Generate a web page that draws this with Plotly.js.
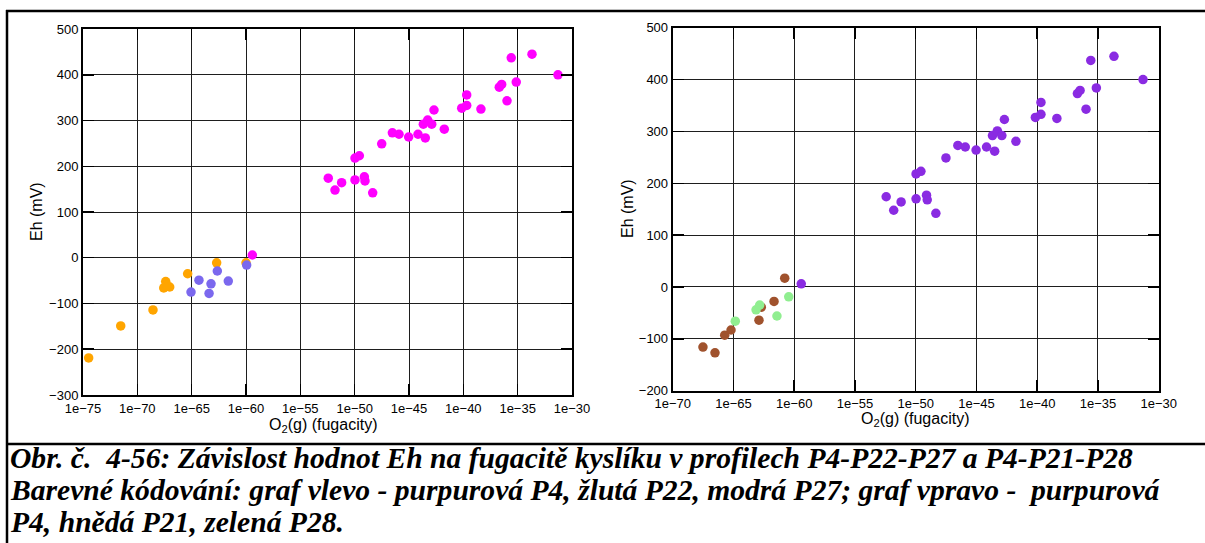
<!DOCTYPE html>
<html>
<head>
<meta charset="utf-8">
<script src="https://cdn.plot.ly/plotly-3.0.1.min.js"></script>
<style>
html,body{margin:0;padding:0;background:#fff;}
#chart{width:1205px;height:543px;}
</style>
</head>
<body>
<div id="chart"></div>
<script>
// ---- Data (log10 of O2(g) fugacity, Eh in mV) ----
const p4LogFO2 = [-52.43,-51.81,-51.2,-49.97,-49.97,-49.57,-49.11,-49.05,-48.34,-47.51,-46.53,-45.92,-45.03,-44.17,-43.5,-43.68,-43.28,-42.91,-42.7,-41.75,-40.15,-39.69,-39.69,-38.38,-36.69,-36.47,-35.98,-35.59,-35.13,-33.68,-31.29,-59.42];
const p4Eh      = [174,148,164,170,218,223,177,168,142,249,273,270,264,270,262,292,301,292,323,281,327,333,356,325,373,379,343,437,384,445,400,6];

const p22LogFO2 = [-74.48,-71.53,-68.56,-67.57,-67.39,-67.02,-67.3,-65.37,-62.7,-60.0];
const p22Eh     = [-219,-149,-114,-66,-52,-64,-60,-35,-11,-11];

const p27LogFO2 = [-65.06,-64.33,-63.22,-63.4,-62.64,-61.63,-59.94];
const p27Eh     = [-75,-49,-57,-78,-29,-51,-16];

const p21LogFO2 = [-67.51,-66.52,-65.72,-65.2,-62.9,-62.71,-61.66,-60.78];
const p21Eh     = [-116,-127,-93,-83,-64,-39,-28,17];

const p28LogFO2 = [-64.85,-63.14,-62.84,-61.42,-60.45];
const p28Eh     = [-66,-44,-35,-56,-19];

const leftXTickExp  = [-75,-70,-65,-60,-55,-50,-45,-40,-35,-30];
const rightXTickExp = [-70,-65,-60,-55,-50,-45,-40,-35,-30];
const leftYTicks  = [-300,-200,-100,0,100,200,300,400,500];
const rightYTicks = [-200,-100,0,100,200,300,400,500];

const captionLines = [
  "Obr. č.\u00a0\u00a04-56: Závislost hodnot Eh na fugacitě kyslíku v profilech P4-P22-P27 a P4-P21-P28",
  "Barevné kódování: graf vlevo - purpurová P4, žlutá P22, modrá P27; graf vpravo -\u00a0\u00a0purpurová",
  "P4, hnědá P21, zelená P28."
];

// ---- Helpers ----
const W = 1205, H = 543;
const px = x => x / W;
const py = y => 1 - y / H;
const toF = arr => arr.map(e => Math.pow(10, e));
const tickText = exps => exps.map(e => "1e" + (e < 0 ? "\u2212" + (-e) : e));

function pts(xe, y, color, xa, ya) {
  return {
    type: 'scatter', mode: 'markers',
    x: toF(xe), y: y, xaxis: xa, yaxis: ya,
    marker: {color: color, size: 9.5, line: {width: 0}},
    hoverinfo: 'skip'
  };
}

const traces = [
  pts(p22LogFO2, p22Eh, '#ffa500', 'x', 'y'),
  pts(p27LogFO2, p27Eh, '#7b68ee', 'x', 'y'),
  pts(p4LogFO2,  p4Eh,  '#ff00ff', 'x', 'y'),
  pts(p21LogFO2, p21Eh, '#a0522d', 'x2', 'y2'),
  pts(p28LogFO2, p28Eh, '#90ee90', 'x2', 'y2'),
  pts(p4LogFO2,  p4Eh,  '#8a2be2', 'x2', 'y2')
];

const tickFont = {family: 'Liberation Sans, Arial, sans-serif', size: 13, color: '#000'};
const titleFont = {family: 'Liberation Sans, Arial, sans-serif', size: 16, color: '#000'};

function xAxis(domain, exps, anchor) {
  return {
    domain: domain, anchor: anchor, type: 'log',
    range: [exps[0] - 0.001, exps[exps.length - 1] + 0.001],
    tickmode: 'array', tickvals: toF(exps), ticktext: tickText(exps),
    showgrid: true, gridcolor: '#1e1e1e', gridwidth: 1,
    showline: true, linecolor: '#000', linewidth: 2, mirror: 'ticks',
    ticks: 'inside', ticklen: 11, tickwidth: 1.5, tickcolor: '#000',
    tickfont: tickFont, zeroline: false, fixedrange: true
  };
}
function yAxis(domain, ticks, anchor) {
  return {
    domain: domain, anchor: anchor,
    range: [ticks[0] - 0.1, ticks[ticks.length - 1] + 0.1],
    tickmode: 'array', tickvals: ticks,
    showgrid: true, gridcolor: '#1e1e1e', gridwidth: 1,
    showline: true, linecolor: '#000', linewidth: 2, mirror: 'ticks',
    ticks: 'inside', ticklen: 11, tickwidth: 1.5, tickcolor: '#000',
    tickfont: tickFont, zeroline: false, fixedrange: true
  };
}

const annotations = [
  {text: 'Eh (mV)', x: px(36), y: py(212), textangle: -90},
  {text: 'Eh (mV)', x: px(627), y: py(209), textangle: -90},
  {text: 'O<sub>2</sub>(g) (fugacity)', x: px(323), y: py(425)},
  {text: 'O<sub>2</sub>(g) (fugacity)', x: px(915), y: py(419)}
].map(a => Object.assign({xref: 'paper', yref: 'paper', showarrow: false,
  xanchor: 'center', yanchor: 'middle', font: titleFont}, a));

const capY = [458, 490, 522];
captionLines.forEach((t, i) => {
  annotations.push({
    text: '<b><i>' + t + '</i></b>', xref: 'paper', yref: 'paper',
    x: px(8), y: py(capY[i]), xanchor: 'left', yanchor: 'middle',
    showarrow: false, align: 'left',
    font: {family: '"Liberation Serif", "Times New Roman", serif', size: 29.6, color: '#000'}
  });
});

const lineStyle = {color: '#000', width: 2.5};
const shapes = [
  {type: 'line', xref: 'paper', yref: 'paper', x0: px(6), x1: 1, y0: py(11), y1: py(11), line: lineStyle},
  {type: 'line', xref: 'paper', yref: 'paper', x0: px(7), x1: px(7), y0: py(10), y1: 0, line: lineStyle},
  {type: 'line', xref: 'paper', yref: 'paper', x0: px(6), x1: 1, y0: py(444), y1: py(444), line: lineStyle}
];

const layout = {
  width: W, height: H,
  margin: {l: 0, r: 0, t: 0, b: 0, pad: 0},
  paper_bgcolor: '#fff', plot_bgcolor: '#fff',
  showlegend: false,
  xaxis:  xAxis([px(83), px(572)], leftXTickExp, 'y'),
  yaxis:  yAxis([py(395), py(29)], leftYTicks, 'x'),
  xaxis2: xAxis([px(672.7), px(1158.7)], rightXTickExp, 'y2'),
  yaxis2: yAxis([py(390.7), py(27.7)], rightYTicks, 'x2'),
  annotations: annotations,
  shapes: shapes
};

Plotly.newPlot('chart', traces, layout, {staticPlot: true, displayModeBar: false});
</script>
</body>
</html>
